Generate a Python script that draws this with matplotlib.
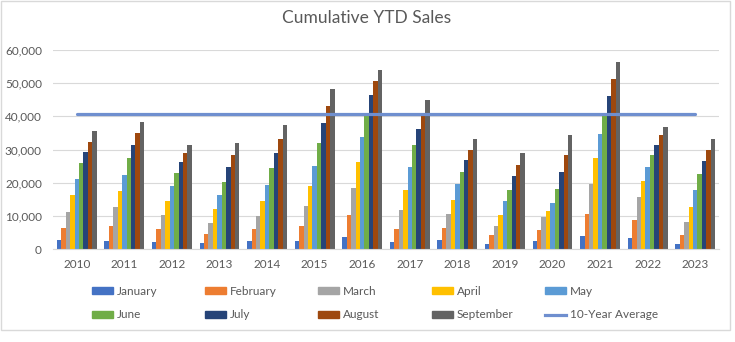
import matplotlib
matplotlib.use("Agg")
import matplotlib.pyplot as plt
import numpy as np
from matplotlib.patches import Rectangle, Patch
from matplotlib.lines import Line2D

plt.rcParams["font.family"] = ["Lato", "DejaVu Sans"]

years = ["2010", "2011", "2012", "2013", "2014", "2015", "2016",
         "2017", "2018", "2019", "2020", "2021", "2022", "2023"]
months = ["January", "February", "March", "April", "May",
          "June", "July", "August", "September"]

jan = [2700, 2400, 2100, 1800, 2400, 2400, 3600, 2100, 2700, 1500, 2400, 3900, 3300, 1500]
feb = [6300, 6900, 6000, 4500, 6000, 6900, 10300, 6000, 6300, 4200, 5700, 10600, 8700, 4200]
mar = [11200, 12700, 10300, 7800, 10000, 13000, 18400, 11800, 10600, 6900, 9700, 19600, 15700, 8100]
apr = [16300, 17500, 14500, 12100, 14500, 19000, 26200, 17800, 14800, 10300, 11500, 27400, 20500, 12700]
may = [21100, 22300, 19000, 16300, 19300, 25000, 33800, 24700, 19600, 14500, 13900, 34700, 24700, 17800]
jun = [25900, 27400, 22900, 20200, 24400, 32000, 40400, 31400, 23200, 17800, 18100, 40500, 28300, 22600]
jul = [29300, 31400, 26200, 24700, 28900, 38000, 46400, 36200, 26800, 22000, 23200, 46100, 31400, 26500]
aug = [32300, 35000, 28900, 28300, 33200, 43100, 50700, 40100, 29900, 25300, 28300, 51300, 34400, 29900]
sep = [35600, 38300, 31400, 32000, 37400, 48200, 54000, 44900, 33200, 28900, 34400, 56400, 36800, 33200]
avg_10yr = [40600, 40600, 40600, 40600, 40600, 40600, 40600,
            40600, 40600, 40600, 40600, 40600, 40600, 40600]

series = [jan, feb, mar, apr, may, jun, jul, aug, sep]
colors = ["#4472C4", "#ED7D31", "#A5A5A5", "#FFC000", "#5B9BD5",
          "#70AD47", "#264478", "#9E480E", "#636363"]
LINE_C = "#6F8FCF"
TXT = "#595959"
GRID = "#D9D9D9"

fig = plt.figure(figsize=(7.35, 3.42), dpi=100)
ax = fig.add_axes([53 / 735, 1 - 249 / 342, 666 / 735, 199 / 342])

x = np.arange(len(years))
n = len(series)
bw = 0.093
for i, (vals, c) in enumerate(zip(series, colors)):
    ax.bar(x + (i - (n - 1) / 2) * bw, vals, width=bw, color=c, zorder=2)
ax.plot(x, avg_10yr, color=LINE_C, lw=2.3, zorder=3, solid_capstyle="round")

ax.set_xlim(-0.5, len(years) - 0.5)
ax.set_ylim(0, 60000)
ax.set_yticks(range(0, 60001, 10000))
ax.set_yticklabels([f"{v:,}" for v in range(0, 60001, 10000)])
ax.set_xticks(x)
ax.set_xticklabels(years)
ax.grid(axis="y", color=GRID, lw=0.8, zorder=0)
for s in ["top", "right", "left"]:
    ax.spines[s].set_visible(False)
ax.spines["bottom"].set_color(GRID)
ax.tick_params(length=0, colors=TXT, labelsize=8.5)
ax.tick_params(axis="y", pad=8)
ax.tick_params(axis="x", pad=7)

fig.text(367 / 735, 1 - 18 / 342, "Cumulative YTD Sales", ha="center", va="center",
         fontsize=12.5, color=TXT)

# legend: five equal-width columns, two rows
handles = [Patch(color=c) for c in colors] + [Line2D([], [], color=LINE_C, lw=2.3)]
labels = months + ["10-Year Average"]
col_x = [92, 205, 318, 432, 545]
for j in range(5):
    fig.legend([handles[j], handles[j + 5]], [labels[j], labels[j + 5]],
               loc="upper left", bbox_to_anchor=(col_x[j] / 735, 1 - 286 / 342),
               frameon=False, fontsize=8.5, labelcolor=TXT,
               handlelength=1.8, handleheight=0.5, handletextpad=0.3,
               labelspacing=1.05, borderpad=0, borderaxespad=0)

fig.add_artist(Rectangle((0.5 / 735, 1 - 330 / 342), 729 / 735, 329.5 / 342,
                         transform=fig.transFigure, fill=False, edgecolor=GRID, lw=1))

fig.savefig("out.png", dpi=100)
